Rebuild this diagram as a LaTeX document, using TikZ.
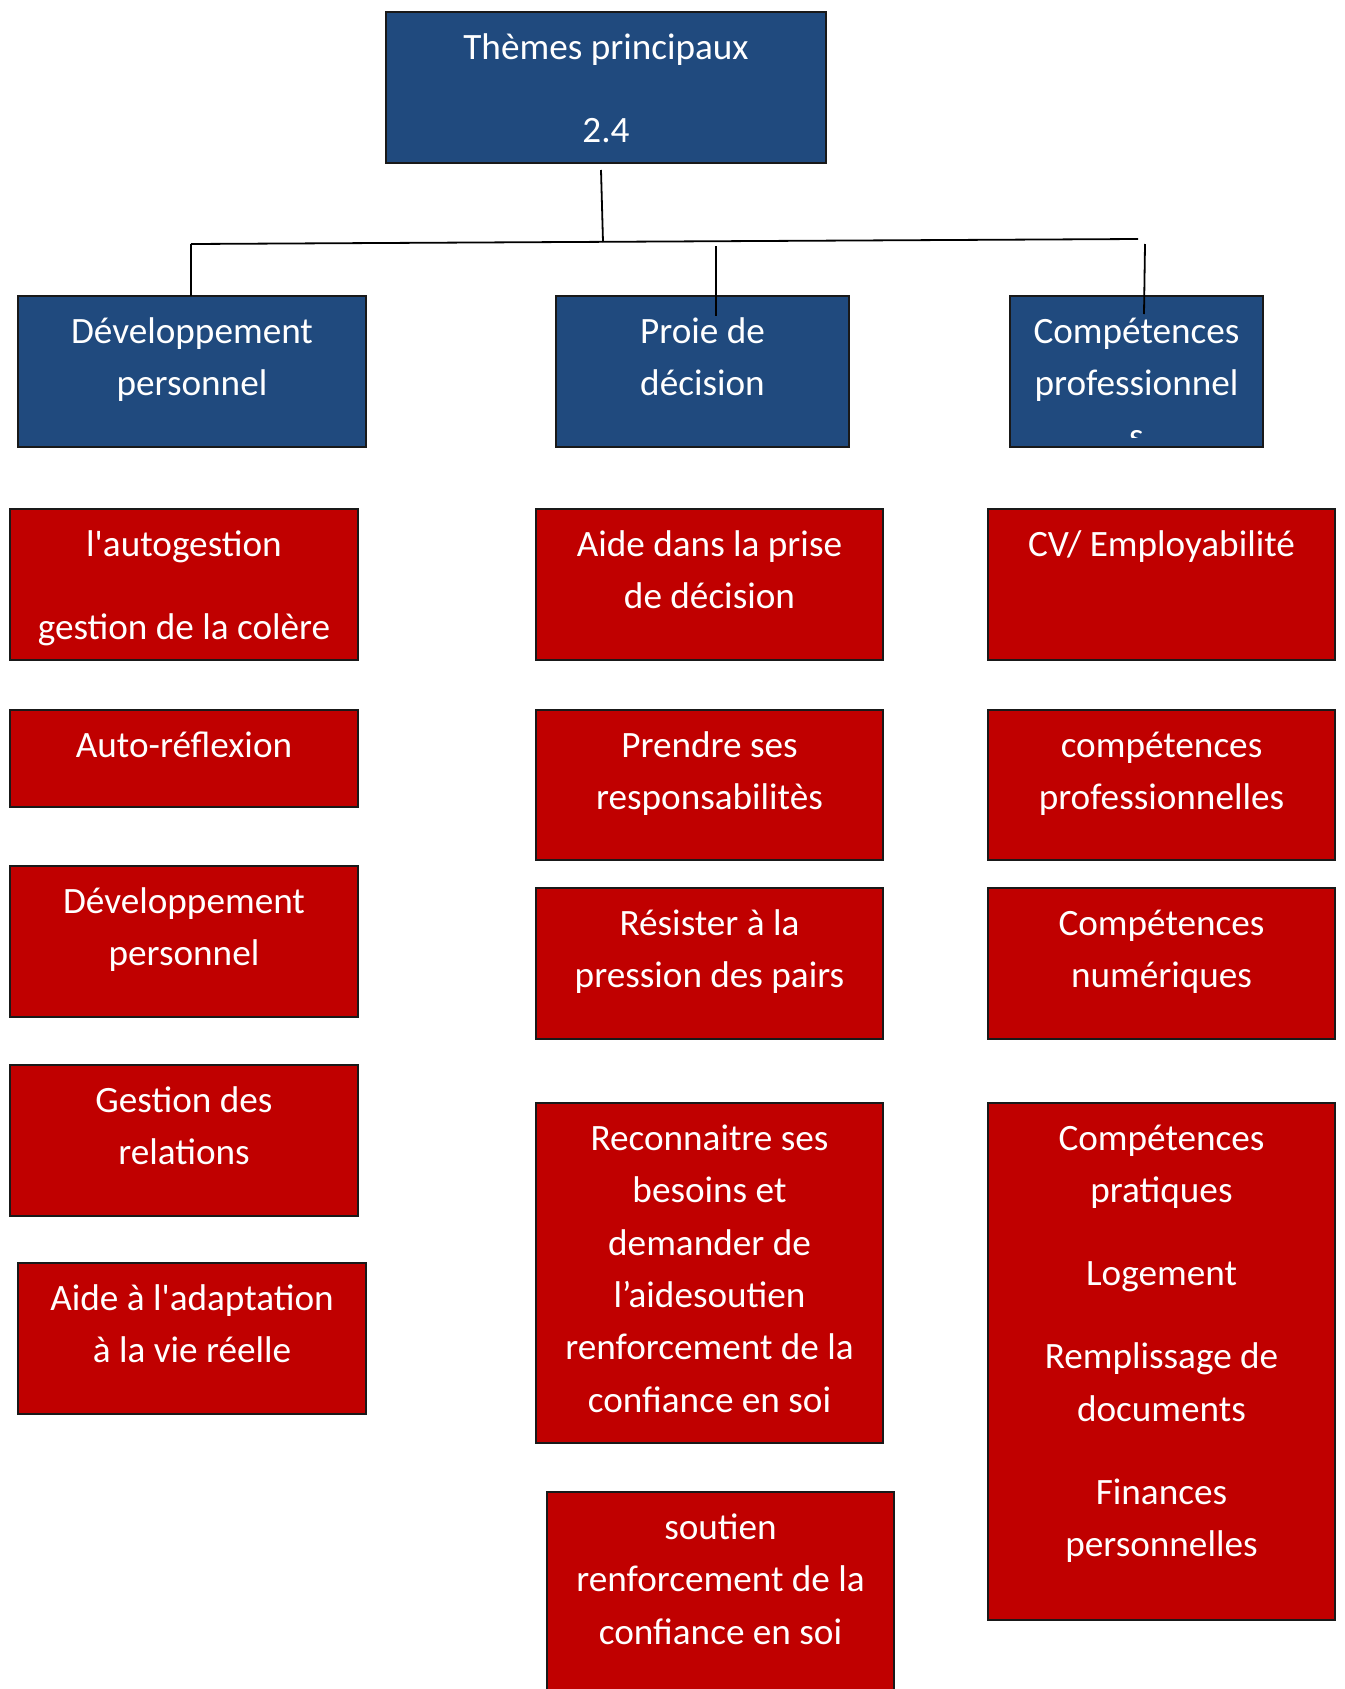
\documentclass[tikz,border=0pt]{standalone}
\usepackage{fontspec}
\setmainfont{Carlito}[Ligatures=TeXOff]
\definecolor{hdrblue}{RGB}{32,74,126}
\definecolor{boxred}{RGB}{192,0,0}
\definecolor{edge}{RGB}{25,25,25}
\tikzset{
  shell/.style={rectangle, draw=edge, line width=1.4pt, inner sep=0pt, outer sep=0pt, anchor=north west},
  bluebox/.style={shell, fill=hdrblue},
  redbox/.style={shell, fill=boxred},
  txt/.style={text=white, font=\fontsize{37.2}{52.4}\selectfont, align=center, anchor=north, inner sep=0pt, yshift=-10.5pt},
  wire/.style={draw=black, line width=1.8pt}
}
\newcommand{\pgap}{\\[30.6pt]}
\begin{document}
\begin{tikzpicture}[x=1pt,y=-1pt]
\useasboundingbox (0,0) rectangle (1344,1689);
\fill[white] (0,0) rectangle (1344,1689);
\clip (0,0) rectangle (1344,1689);

% top box
\node[bluebox, minimum width=440pt, minimum height=151pt] (top) at (386,12) {};
\node[txt] (ttop) at (top.north) {\strut Thèmes principaux\pgap 2.4};

% headers
\node[bluebox, minimum width=348pt, minimum height=151pt] (h1) at (18,296) {};
\node[bluebox, minimum width=293pt, minimum height=151pt] (h2) at (556,296) {};
\node[bluebox, minimum width=253pt, minimum height=151pt] (h3) at (1010,296) {};
\node[txt] (th1) at (h1.north) {\strut Développement\\personnel};
\node[txt] (th2) at (h2.north) {\strut Proie de\\décision};
\begin{scope}
  \clip (1011,297) rectangle (1262,437);
  \node[txt] (th3) at (h3.north) {\strut Compétences\\professionnel\\s};
\end{scope}

% column 1
\node[redbox, minimum width=348pt, minimum height=151pt] (c1a) at (10,509) {};
\node[redbox, minimum width=348pt, minimum height=97pt]  (c1b) at (10,710) {};
\node[redbox, minimum width=348pt, minimum height=151pt] (c1c) at (10,866) {};
\node[redbox, minimum width=348pt, minimum height=151pt] (c1d) at (10,1065) {};
\node[redbox, minimum width=348pt, minimum height=151pt] (c1e) at (18,1263) {};
\node[txt] (tc1a) at (c1a.north) {\strut l'autogestion\pgap gestion de la colère};
\node[txt] (tc1b) at (c1b.north) {\strut Auto-réflexion};
\node[txt] (tc1c) at (c1c.north) {\strut Développement\\personnel};
\node[txt] (tc1d) at (c1d.north) {\strut Gestion des\\relations};
\node[txt] (tc1e) at (c1e.north) {\strut Aide à l'adaptation\\à la vie réelle};

% column 2
\node[redbox, minimum width=347pt, minimum height=151pt] (c2a) at (536,509) {};
\node[redbox, minimum width=347pt, minimum height=150pt] (c2b) at (536,710) {};
\node[redbox, minimum width=347pt, minimum height=151pt] (c2c) at (536,888) {};
\node[redbox, minimum width=347pt, minimum height=340pt] (c2d) at (536,1103) {};
\node[redbox, minimum width=347pt, minimum height=260pt] (c2e) at (547,1492) {};
\node[txt] (tc2a) at (c2a.north) {\strut Aide dans la prise\\de décision};
\node[txt] (tc2b) at (c2b.north) {\strut Prendre ses\\responsabilitès};
\node[txt] (tc2c) at (c2c.north) {\strut Résister à la\\pression des pairs};
\node[txt] (tc2d) at (c2d.north) {\strut Reconnaitre ses\\besoins et\\demander de\\l’aidesoutien\\renforcement de la\\confiance en soi};
\node[txt] (tc2e) at (c2e.north) {\strut soutien\\renforcement de la\\confiance en soi};

% column 3
\node[redbox, minimum width=347pt, minimum height=151pt] (c3a) at (988,509) {};
\node[redbox, minimum width=347pt, minimum height=150pt] (c3b) at (988,710) {};
\node[redbox, minimum width=347pt, minimum height=151pt] (c3c) at (988,888) {};
\node[redbox, minimum width=347pt, minimum height=517pt] (c3d) at (988,1103) {};
\node[txt] (tc3a) at (c3a.north) {\strut CV/ Employabilité};
\node[txt] (tc3b) at (c3b.north) {\strut compétences\\professionnelles};
\node[txt] (tc3c) at (c3c.north) {\strut Compétences\\numériques};
\node[txt] (tc3d) at (c3d.north) {\strut Compétences\\pratiques\pgap Logement\pgap Remplissage de\\documents\pgap Finances\\personnelles};

% connectors
\coordinate (topfoot) at (601,170);
\coordinate (busM) at (603,242);
\coordinate (busL) at (191,244);
\coordinate (busR) at (1138,239);
\coordinate (midtop) at (716,246);
\coordinate (midfoot) at (716,316);
\coordinate (rtop) at (1145,244);
\coordinate (rfoot) at (1144,314);
\draw[wire] (topfoot) -- (busM);
\draw[wire] (busL) -- (busR);
\draw[wire] (busL) -- (h1.north -| busL);
\draw[wire] (midtop) -- (midfoot);
\draw[wire] (rtop) -- (rfoot);
\end{tikzpicture}
\end{document}
